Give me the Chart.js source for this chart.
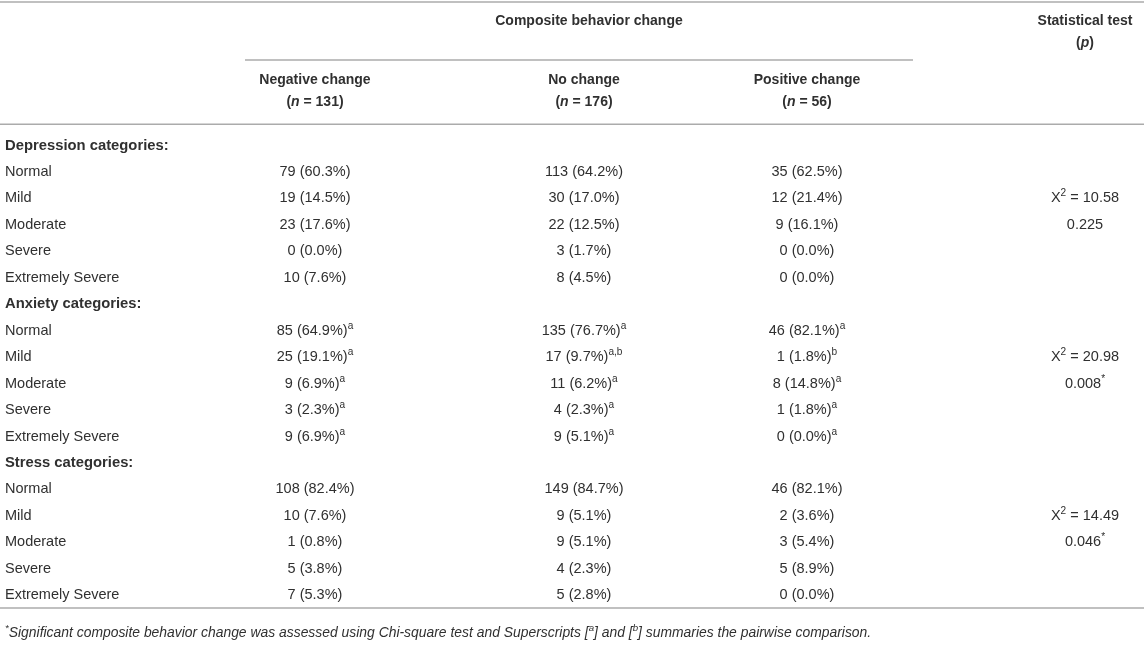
<!DOCTYPE html>
<html>
<head>
<meta charset="utf-8">
<script src="https://cdn.jsdelivr.net/npm/chart.js@4.4.1/dist/chart.umd.min.js"></script>
<style>
  html, body { margin: 0; padding: 0; background: #ffffff; }
  #wrap { width: 1144px; height: 646px; }
</style>
</head>
<body>
<div id="wrap"><canvas id="c" width="1144" height="646"></canvas></div>
<script>
// ---------------- DATA ----------------
const categories = ['Normal', 'Mild', 'Moderate', 'Severe', 'Extremely Severe'];
const groups = ['Depression categories:', 'Anxiety categories:', 'Stress categories:'];
const columns = ['Negative change', 'No change', 'Positive change'];
const groupN = [131, 176, 56];

const depNeg = [79, 19, 23, 0, 10];
const depNegPct = [60.3, 14.5, 17.6, 0.0, 7.6];
const depNone = [113, 30, 22, 3, 8];
const depNonePct = [64.2, 17.0, 12.5, 1.7, 4.5];
const depPos = [35, 12, 9, 0, 0];
const depPosPct = [62.5, 21.4, 16.1, 0.0, 0.0];

const anxNeg = [85, 25, 9, 3, 9];
const anxNegPct = [64.9, 19.1, 6.9, 2.3, 6.9];
const anxNegSup = ['a', 'a', 'a', 'a', 'a'];
const anxNone = [135, 17, 11, 4, 9];
const anxNonePct = [76.7, 9.7, 6.2, 2.3, 5.1];
const anxNoneSup = ['a', 'a,b', 'a', 'a', 'a'];
const anxPos = [46, 1, 8, 1, 0];
const anxPosPct = [82.1, 1.8, 14.8, 1.8, 0.0];
const anxPosSup = ['a', 'b', 'a', 'a', 'a'];

const strNeg = [108, 10, 1, 5, 7];
const strNegPct = [82.4, 7.6, 0.8, 3.8, 5.3];
const strNone = [149, 9, 9, 4, 5];
const strNonePct = [84.7, 5.1, 5.1, 2.3, 2.8];
const strPos = [46, 2, 3, 5, 0];
const strPosPct = [82.1, 3.6, 5.4, 8.9, 0.0];

const chiSquare = ['10.58', '20.98', '14.49'];
const pValues = ['0.225', '0.008', '0.046'];
const significant = [false, true, true];

// ---------------- LAYOUT ----------------
const COLX = { label: 5, neg: 315, none: 584, pos: 807, stat: 1085, spanL: 245, spanR: 913, left: 0, right: 1144 };
// row units: 0 = first body row
const ROW = { composite: -5.71, pLine: -4.88, colHead: -3.48, nLine: -2.65,
              topRule: -6.43, spanRule: -4.23, headRule: -1.81, bottomRule: 16.48, foot: 17.42 };
const TEXT = '#303030';
const RULE = '#ababab';
const FONT = '"Liberation Sans", Arial, Helvetica, sans-serif';
const SIZE_BODY = 14.5, SIZE_GROUP = 14.8, SIZE_HEAD = 14, SIZE_FOOT = 13.9;

// build body cells
const bodyGroups = [
  { cols: [[depNeg, depNegPct, null], [depNone, depNonePct, null], [depPos, depPosPct, null]] },
  { cols: [[anxNeg, anxNegPct, anxNegSup], [anxNone, anxNonePct, anxNoneSup], [anxPos, anxPosPct, anxPosSup]] },
  { cols: [[strNeg, strNegPct, null], [strNone, strNonePct, null], [strPos, strPosPct, null]] }
];

const colKeys = ['neg', 'none', 'pos'];
const labelPts = [], labelSegs = [];
const dataPts = [[], [], []], dataSegs = [[], [], []];
const statPts = [], statSegs = [];

bodyGroups.forEach((g, gi) => {
  const base = gi * 6;
  labelPts.push({ x: COLX.label, y: base - 1 });
  labelSegs.push([{ t: groups[gi], b: true, size: SIZE_GROUP }]);
  categories.forEach((cat, ci) => {
    labelPts.push({ x: COLX.label, y: base + ci });
    labelSegs.push([{ t: cat }]);
    g.cols.forEach((c, k) => {
      const [cnt, pct, sup] = c;
      dataPts[k].push({ x: COLX[colKeys[k]], y: base + ci });
      const segs = [{ t: cnt[ci] + ' (' + pct[ci].toFixed(1) + '%)' }];
      if (sup) segs.push({ t: sup[ci], sup: true });
      dataSegs[k].push(segs);
    });
  });
  statPts.push({ x: COLX.stat, y: base + 1 });
  statSegs.push([{ t: 'X' }, { t: '2', sup: true }, { t: ' = ' + chiSquare[gi] }]);
  statPts.push({ x: COLX.stat, y: base + 2 });
  const ps = [{ t: pValues[gi] }];
  if (significant[gi]) ps.push({ t: '*', sup: true });
  statSegs.push(ps);
});

// ---------------- RICH TEXT ----------------
function fontOf(s, size) {
  const base = s.size || size;
  const sz = s.sup ? base * 0.7 : base;
  return (s.i ? 'italic ' : '') + (s.b ? 'bold ' : '') + sz.toFixed(1) + 'px ' + FONT;
}
function drawRich(ctx, segs, x, y, align, size) {
  let w = 0;
  const widths = segs.map(s => { ctx.font = fontOf(s, size); const m = ctx.measureText(s.t).width; w += m; return m; });
  let cx = align === 'center' ? x - w / 2 : x;
  ctx.textBaseline = 'middle';
  ctx.textAlign = 'left';
  segs.forEach((s, i) => {
    ctx.font = fontOf(s, size);
    ctx.fillText(s.t, cx, s.sup ? y - size * 0.33 : y);
    cx += widths[i];
  });
}

const tablePlugin = {
  id: 'tablePlugin',
  afterDraw(chart) {
    const ctx = chart.ctx;
    const xs = chart.scales.x, ys = chart.scales.y;
    const X = v => xs.getPixelForValue(v), Y = v => ys.getPixelForValue(v);
    ctx.save();
    // rules
    ctx.strokeStyle = RULE;
    ctx.lineWidth = 1.5;
    const rule = (x1, x2, r) => { ctx.beginPath(); ctx.moveTo(X(x1), Y(r)); ctx.lineTo(X(x2), Y(r)); ctx.stroke(); };
    rule(COLX.left, COLX.right, ROW.topRule);
    rule(COLX.spanL, COLX.spanR, ROW.spanRule);
    rule(COLX.left, COLX.right, ROW.headRule);
    rule(COLX.left, COLX.right, ROW.bottomRule);

    ctx.fillStyle = TEXT;
    // headers
    drawRich(ctx, [{ t: 'Composite behavior change', b: true }], X((COLX.spanL + COLX.spanR) / 2 + 10), Y(ROW.composite), 'center', SIZE_HEAD);
    drawRich(ctx, [{ t: 'Statistical test', b: true }], X(COLX.stat), Y(ROW.composite), 'center', SIZE_HEAD);
    drawRich(ctx, [{ t: '(', b: true }, { t: 'p', b: true, i: true }, { t: ')', b: true }], X(COLX.stat), Y(ROW.pLine), 'center', SIZE_HEAD);
    columns.forEach((c, k) => {
      drawRich(ctx, [{ t: c, b: true }], X(COLX[colKeys[k]]), Y(ROW.colHead), 'center', SIZE_HEAD);
      drawRich(ctx, [{ t: '(', b: true }, { t: 'n', b: true, i: true }, { t: ' = ' + groupN[k] + ')', b: true }], X(COLX[colKeys[k]]), Y(ROW.nLine), 'center', SIZE_HEAD);
    });
    // body cells from dataset elements
    chart.data.datasets.forEach((ds, di) => {
      const meta = chart.getDatasetMeta(di);
      meta.data.forEach((el, j) => {
        drawRich(ctx, ds.segs[j], el.x, el.y, ds.align, SIZE_BODY);
      });
    });
    // footnote
    drawRich(ctx, [
      { t: '*', sup: true, i: true },
      { t: 'Significant composite behavior change was assessed using Chi-square test and Superscripts [', i: true },
      { t: 'a', sup: true, i: true },
      { t: '] and [', i: true },
      { t: 'b', sup: true, i: true },
      { t: '] summaries the pairwise comparison.', i: true }
    ], X(COLX.label), Y(ROW.foot), 'left', SIZE_FOOT);
    ctx.restore();
  }
};

const mk = (pts, segs, align) => ({ data: pts, segs: segs, align: align, pointRadius: 0, pointHoverRadius: 0, showLine: false });

new Chart(document.getElementById('c'), {
  type: 'scatter',
  data: {
    datasets: [
      mk(labelPts, labelSegs, 'left'),
      mk(dataPts[0], dataSegs[0], 'center'),
      mk(dataPts[1], dataSegs[1], 'center'),
      mk(dataPts[2], dataSegs[2], 'center'),
      mk(statPts, statSegs, 'center')
    ]
  },
  options: {
    responsive: false,
    animation: false,
    events: [],
    layout: { padding: 0 },
    plugins: { legend: { display: false }, tooltip: { enabled: false } },
    scales: {
      x: { type: 'linear', min: 0, max: 1144, display: false },
      y: { type: 'linear', min: -6.503, max: 17.92, reverse: true, display: false }
    }
  },
  plugins: [tablePlugin]
});
</script>
</body>
</html>
